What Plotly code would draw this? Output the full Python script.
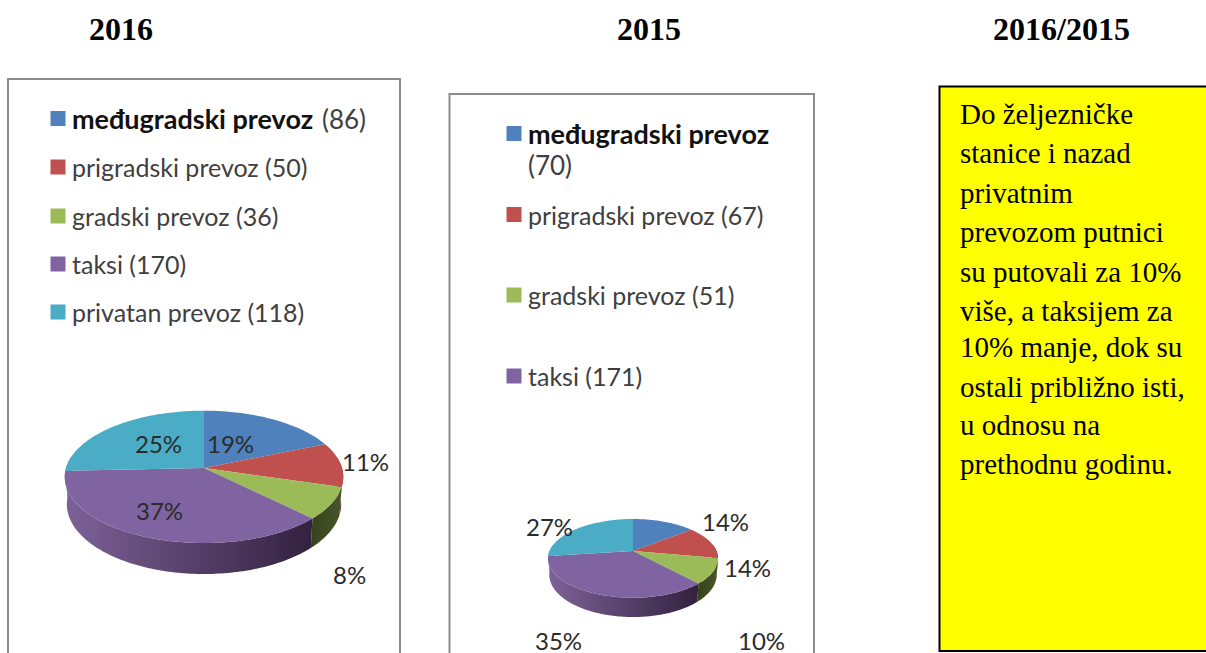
import math
import plotly.graph_objects as go

categories = ["međugradski prevoz", "prigradski prevoz", "gradski prevoz", "taksi", "privatan prevoz"]
values_2016 = [86, 50, 36, 170, 118]
values_2015 = [70, 67, 51, 171, 133]
pct_2016 = ["19%", "11%", "8%", "37%", "25%"]
pct_2015 = ["14%", "14%", "10%", "35%", "27%"]
titles = ["2016", "2015", "2016/2015"]
note_lines = ["Do željezničke", "stanice i nazad", "privatnim", "prevozom putnici", "su putovali za 10%",
              "više, a taksijem za", "10% manje, dok su", "ostali približno isti,", "u odnosu na", "prethodnu godinu."]

TOP = ["#4f81bd", "#c0504d", "#9bbb59", "#8064a2", "#4bacc6"]
WALL = [["#2f4d71", "#2f4d71"], ["#6e2d2b", "#6e2d2b"], ["#36421c", "#47562a"],
        ["#7d6298", "#33213f"], ["#4f9fb5", "#4f9fb5"]]

W, H = 1206, 653
fig = go.Figure()


def pt(t, g, bottom=False):
    d = -math.cos(t)
    s = 1 / (1 - g["k"] * d)
    if bottom:
        return g["cx"] + g["A"] * g["shrink"] * math.sin(t) * s, g["cy"] + (g["B"] * d + g["h"]) * s
    return g["cx"] + g["A"] * math.sin(t) * s, g["cy"] + g["B"] * d * s


def arc(t1, t2, g, bottom=False):
    n = max(2, int(abs(t2 - t1) / 0.02))
    return [pt(t1 + (t2 - t1) * i / n, g, bottom) for i in range(n + 1)]


def draw_pie(values, g):
    total = sum(values)
    bounds = [0]
    for v in values:
        bounds.append(bounds[-1] + v / total * 2 * math.pi)
    lo, hi = math.radians(80), math.radians(280)
    for i in range(len(values)):
        a, b = max(bounds[i], lo), min(bounds[i + 1], hi)
        if a >= b:
            continue
        poly = arc(a, b, g) + arc(b, a, g, True)
        fig.add_trace(go.Scatter(
            x=[p[0] for p in poly] + [poly[0][0]], y=[p[1] for p in poly] + [poly[0][1]],
            mode="none", fill="toself", hoverinfo="skip",
            fillgradient=dict(type="horizontal", colorscale=[[0, WALL[i][0]], [1, WALL[i][1]]]),
        ))
    for i in range(len(values)):
        poly = [(g["cx"], g["cy"])] + arc(bounds[i], bounds[i + 1], g) + [(g["cx"], g["cy"])]
        fig.add_trace(go.Scatter(
            x=[p[0] for p in poly], y=[p[1] for p in poly], mode="none",
            fill="toself", fillcolor=TOP[i], hoverinfo="skip",
        ))


draw_pie(values_2016, dict(cx=204, cy=468, A=138, B=65, k=0.134, h=26.8, shrink=0.985))
draw_pie(values_2015, dict(cx=633, cy=551, A=83.5, B=38, k=0.187, h=15.7, shrink=0.985))

# legend squares
leg16_y = [118.5, 167, 216, 264, 312]
leg15_y = [133.5, 214.5, 295, 376]
fig.add_trace(go.Scatter(x=[58] * 5, y=leg16_y, mode="markers", hoverinfo="skip",
                         marker=dict(symbol="square", size=15, color=TOP, line=dict(width=0))))
fig.add_trace(go.Scatter(x=[514] * 4, y=leg15_y, mode="markers", hoverinfo="skip",
                         marker=dict(symbol="square", size=15, color=TOP[:4], line=dict(width=0))))


def txt(x, y, s, size, color="#3a3a3a", font="Lato", anchor="left", bold=False):
    if bold:
        s = "<b>%s</b>" % s
    fig.add_annotation(x=x, y=y, text=s, showarrow=False, xanchor=anchor, yanchor="middle",
                       font=dict(family=font, size=size, color=color), xref="x", yref="y")


LEG = 25
GREY = "#3f3f3f"
txt(70, leg16_y[0], categories[0], 27, "#111111", bold=True)
txt(320, leg16_y[0], "(%d)" % values_2016[0], 26, GREY)
for i in range(1, 5):
    txt(70, leg16_y[i], "%s (%d)" % (categories[i], values_2016[i]), LEG, GREY)
txt(526, 133.5, categories[0], 27, "#111111", bold=True)
txt(526, 165, "(%d)" % values_2015[0], 26, GREY)
for i in (1, 2, 3):
    txt(526, leg15_y[i], "%s (%d)" % (categories[i], values_2015[i]), LEG, GREY)

# percent labels
pos16 = [(230, 443), (365, 461), (349, 574), (159, 510), (158, 443)]
pos15 = [(725, 521), (747, 567), (761, 640), (558, 640), (549, 526)]
for s, p in zip(pct_2016, pos16):
    txt(p[0], p[1], s, 24, "#2b2b2b", anchor="center")
for s, p in zip(pct_2015, pos15):
    txt(p[0], p[1], s, 24, "#2b2b2b", anchor="center")

# titles
for s, x in zip(titles, [121, 649, 1061]):
    txt(x, 29, s, 32, "#000000", "Liberation Serif", "center", True)

# note text
note_y = [114, 153, 193, 232, 272, 311, 347, 387, 425, 464]
for s, y in zip(note_lines, note_y):
    txt(958, y, s, 29, "#000000", "Liberation Serif")

fig.update_layout(
    width=W, height=H, margin=dict(l=0, r=0, t=0, b=0), showlegend=False,
    paper_bgcolor="white", plot_bgcolor="white",
    xaxis=dict(range=[0, W], visible=False, fixedrange=True),
    yaxis=dict(range=[H, 0], visible=False, fixedrange=True),
    shapes=[
        dict(type="rect", x0=8, y0=79, x1=400, y1=720, line=dict(color="#8c8c8c", width=2), layer="below"),
        dict(type="rect", x0=449.5, y0=94, x1=814, y1=720, line=dict(color="#8c8c8c", width=2), layer="below"),
        dict(type="rect", x0=939.5, y0=86.5, x1=1220, y1=651, fillcolor="#ffff00",
             line=dict(color="#000000", width=2), layer="below"),
    ],
)
fig.write_html("out.html", config={"displayModeBar": False},
               post_script="document.body.style.margin='0';document.documentElement.style.overflow='hidden';")
